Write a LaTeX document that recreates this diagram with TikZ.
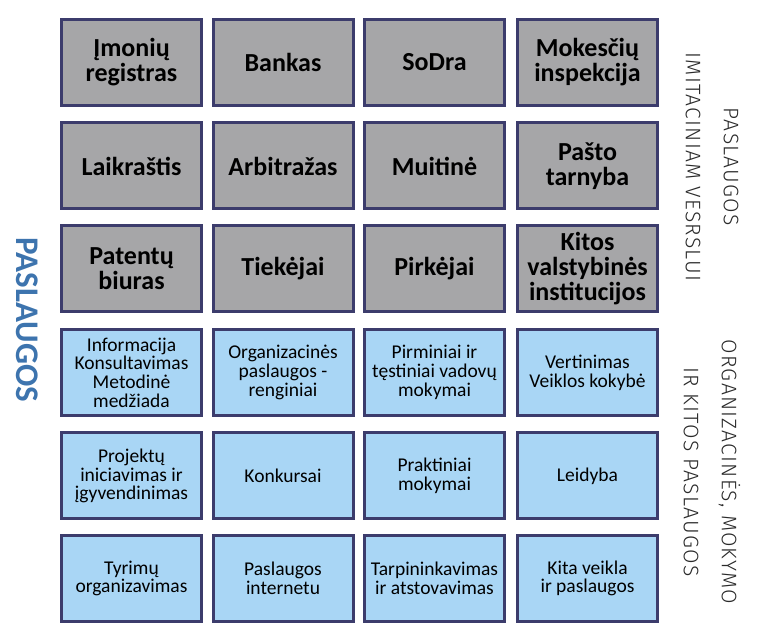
\documentclass[tikz,border=0pt]{standalone}
\usepackage{fontspec}
\setmainfont{Carlito}
\newfontfamily\thinfont[LetterSpace=6]{Fira Sans Light}
\begin{document}
\begin{tikzpicture}[x=1pt,y=1pt]
\definecolor{frame}{HTML}{3C3C6C}
\definecolor{grayfill}{HTML}{A6A6A8}
\definecolor{bluefill}{HTML}{A9D6F5}
\definecolor{titleblue}{HTML}{3D74AE}
\definecolor{sidetext}{HTML}{2A2A2A}
\tikzset{
  cell/.style={draw=frame, line width=3pt, minimum width=140pt, minimum height=86pt,
    inner sep=2pt, align=center},
  firm/.style={cell, fill=grayfill, font=\fontsize{26}{25}\selectfont\bfseries},
  service/.style={cell, fill=bluefill, font=\fontsize{19.5}{18.7}\selectfont},
  sidelabel/.style={rotate=-90, align=center, font=\thinfont\fontsize{21}{38}\selectfont, text=sidetext},
}
\useasboundingbox (0,0) rectangle (768,636);
% columns 131.5, 283, 434.5, 587.5 ; rows 573.5, 470, 367.5, 263.5, 160, 57.5
\node[firm] (a1) at (131.5,573.5) {Įmonių\\registras};
\node[firm] (a2) at (283,573.5) {Bankas};
\node[firm] (a3) at (434.5,573.5) {SoDra};
\node[firm] (a4) at (587.5,573.5) {Mokesčių\\inspekcija};
\node[firm] (b1) at (131.5,470) {Laikraštis};
\node[firm] (b2) at (283,470) {Arbitražas};
\node[firm] (b3) at (434.5,470) {Muitinė};
\node[firm] (b4) at (587.5,470) {Pašto\\tarnyba};
\node[firm] (c1) at (131.5,367.5) {Patentų\\biuras};
\node[firm] (c2) at (283,367.5) {Tiekėjai};
\node[firm] (c3) at (434.5,367.5) {Pirkėjai};
\node[firm] (c4) at (587.5,367.5) {Kitos\\valstybinės\\institucijos};
\node[service] (d1) at (131.5,263.5) {Informacija\\Konsultavimas\\Metodinė\\medžiada};
\node[service] (d2) at (283,263.5) {Organizacinės\\paslaugos -\\renginiai};
\node[service] (d3) at (434.5,263.5) {Pirminiai ir\\tęstiniai vadovų\\mokymai};
\node[service] (d4) at (587.5,263.5) {Vertinimas\\Veiklos kokybė};
\node[service] (e1) at (131.5,160) {Projektų\\iniciavimas ir\\įgyvendinimas};
\node[service] (e2) at (283,160) {Konkursai};
\node[service] (e3) at (434.5,160) {Praktiniai\\mokymai};
\node[service] (e4) at (587.5,160) {Leidyba};
\node[service] (f1) at (131.5,57.5) {Tyrimų\\organizavimas};
\node[service] (f2) at (283,57.5) {Paslaugos\\internetu};
\node[service] (f3) at (434.5,57.5) {Tarpininkavimas\\ir atstovavimas};
\node[service] (f4) at (587.5,57.5) {Kita veikla\\ir paslaugos};
% side headings
\node[rotate=-90, text=titleblue, font=\fontsize{33}{36}\selectfont\bfseries] (main) at (27,316) {PASLAUGOS};
\node[sidelabel] (upper) at (712,469) {PASLAUGOS\\IMITACINIAM VESRSLUI};
\node[sidelabel] (lower) at (712,164) {ORGANIZACINĖS, MOKYMO\\IR KITOS PASLAUGOS};
\end{tikzpicture}
\end{document}
